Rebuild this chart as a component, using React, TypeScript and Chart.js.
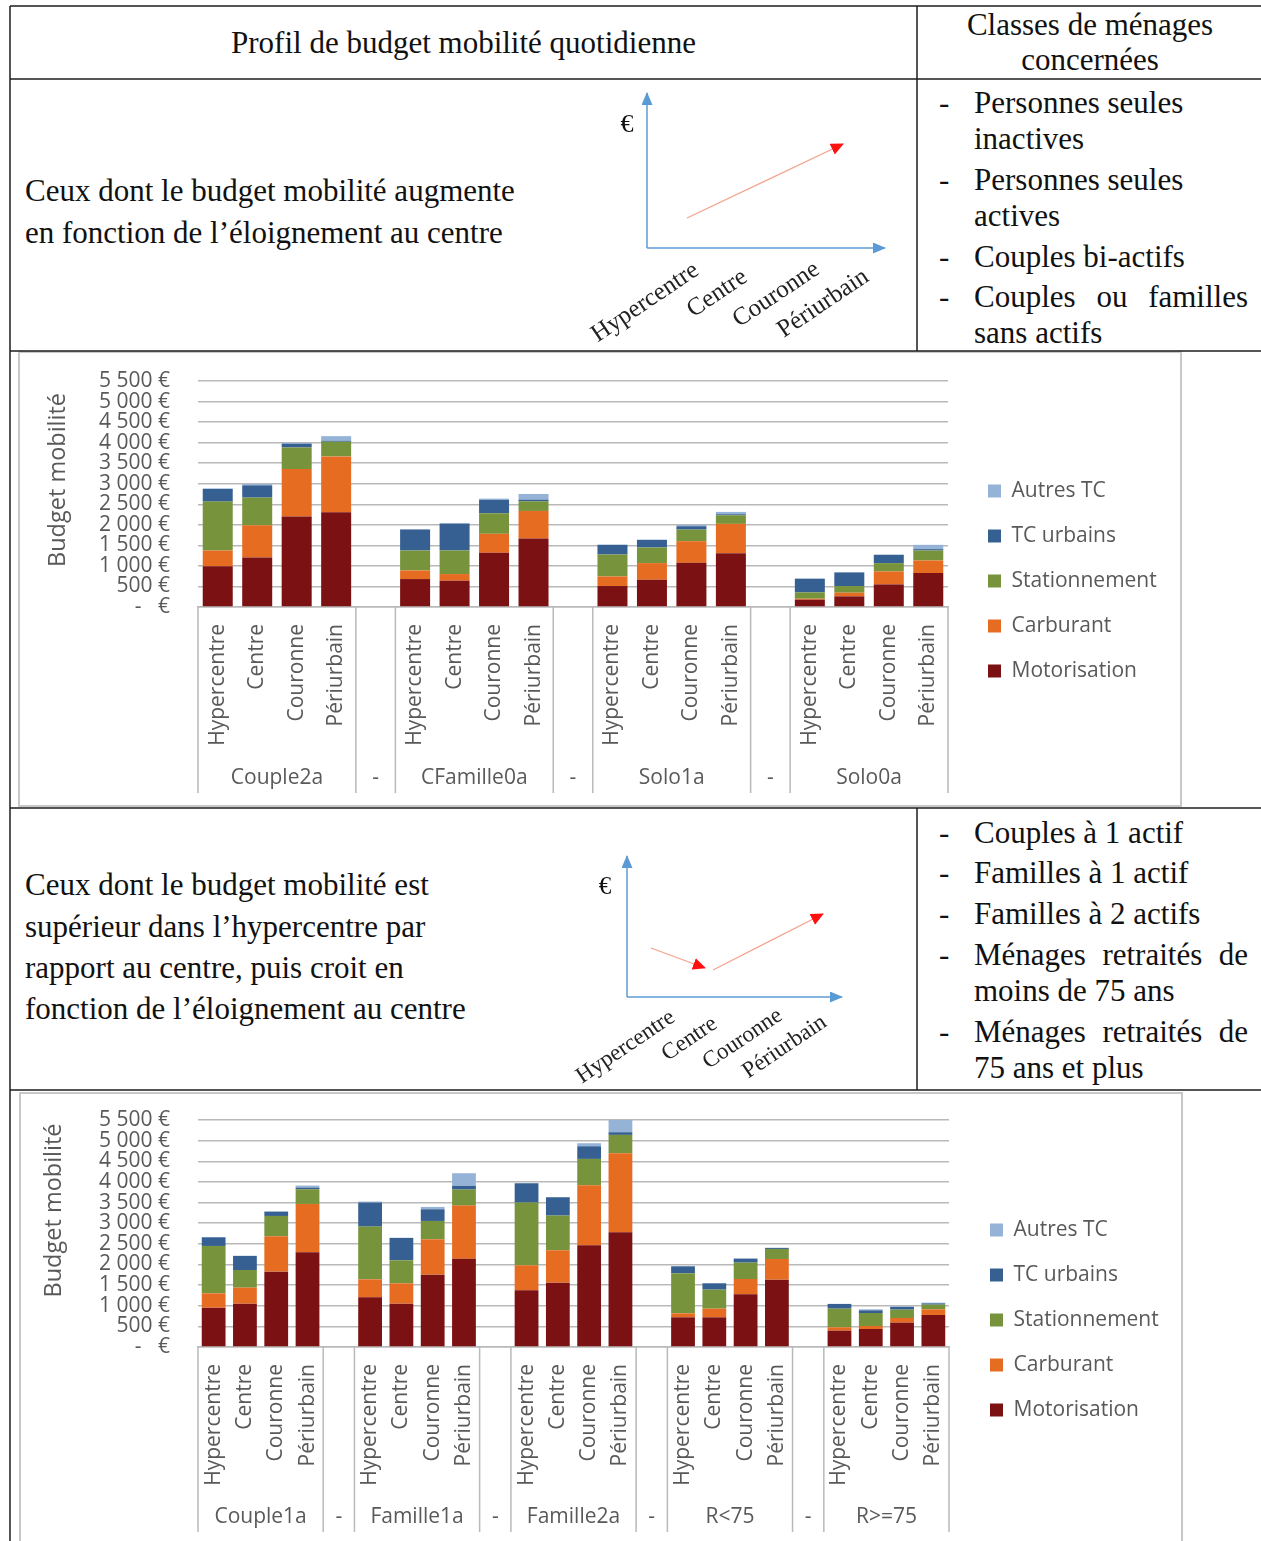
import React, { useEffect, useRef } from 'react';
import { Chart, registerables } from 'chart.js';

Chart.register(...registerables);

// ---------- data ----------
const ZONES = ['Hypercentre', 'Centre', 'Couronne', 'Périurbain'];
const SERIES_NAMES = ['Motorisation', 'Carburant', 'Stationnement', 'TC urbains', 'Autres TC'];
const SERIES_COLORS = ['#7b1113', '#e66c22', '#77933c', '#376092', '#95b3d7'];
const Y_MAX = 5500;
const Y_STEP = 500;
const Y_TITLE = 'Budget mobilité';

const TOP_GROUPS = ['Couple2a', 'CFamille0a', 'Solo1a', 'Solo0a'];
const TOP_MOTORISATION = [990, 1205, 2200, 2306, 680, 640, 1320, 1667, 510, 663, 1076, 1311, 178, 259, 550, 825];
const TOP_CARBURANT = [385, 785, 1157, 1359, 210, 162, 461, 671, 234, 405, 526, 712, 24, 89, 316, 308];
const TOP_STATIONNEMENT = [1190, 672, 526, 356, 485, 574, 501, 235, 534, 380, 283, 210, 154, 162, 202, 242];
const TOP_TC_URBAINS = [307, 299, 89, 24, 510, 656, 324, 40, 235, 186, 81, 24, 332, 331, 202, 33];
const TOP_AUTRES_TC = [15, 30, 25, 113, 10, 5, 32, 138, 5, 5, 32, 57, 5, 5, 5, 105];

const BOTTOM_GROUPS = ['Couple1a', 'Famille1a', 'Famille2a', 'R<75', 'R>=75'];
const BOTTOM_MOTORISATION = [953, 1050, 1826, 2295, 1204, 1050, 1753, 2141, 1374, 1559, 2464, 2780, 719, 719, 1277, 1632, 396, 436, 590, 776];
const BOTTOM_CARBURANT = [348, 388, 857, 1171, 436, 493, 857, 1285, 606, 784, 1455, 1914, 97, 210, 371, 501, 81, 73, 113, 137];
const BOTTOM_STATIONNEMENT = [1147, 428, 492, 356, 1277, 558, 444, 388, 1519, 841, 638, 445, 970, 461, 396, 243, 452, 315, 202, 113];
const BOTTOM_TC_URBAINS = [210, 340, 105, 40, 582, 541, 283, 89, 468, 444, 307, 65, 169, 153, 97, 24, 113, 65, 65, 32];
const BOTTOM_AUTRES_TC = [5, 5, 5, 49, 25, 5, 57, 307, 5, 5, 73, 298, 5, 5, 5, 5, 5, 24, 16, 16];

// ---------- styles ----------
const SANS = '"Open Sans", "Noto Sans", sans-serif';
const SERIF = '"Liberation Serif", "Times New Roman", serif';
const AXIS_TEXT = '#595959';
const GRID = '#b9b9b9';
const PER_GROUP = ZONES.length + 1;

function withGaps<T>(values: T[], gap: T): T[] {
  const out: T[] = [];
  for (let i = 0; i < values.length; i += ZONES.length) {
    if (i > 0) out.push(gap);
    out.push(...values.slice(i, i + ZONES.length));
  }
  return out;
}

function makeGroupPlugin(groups: string[], titleX: number, titleLift: number) {
  return {
    id: 'groupAxis',
    afterDraw(chart: any) {
      const x = chart.scales.x;
      const ctx = chart.ctx;
      const area = chart.chartArea;
      const n = groups.length * PER_GROUP - 1;
      const px = (i: number) => x.getPixelForValue(i);
      const boundary = (k: number) => (k <= 0 ? x.left : k >= n ? x.right : (px(k - 1) + px(k)) / 2);
      ctx.save();
      ctx.strokeStyle = GRID;
      ctx.lineWidth = 1.5;
      groups.forEach((_g, gi) => {
        const s = gi * PER_GROUP;
        [s, s + ZONES.length].forEach((k) => {
          const xx = boundary(k);
          ctx.beginPath();
          ctx.moveTo(xx, x.top);
          ctx.lineTo(xx, x.bottom);
          ctx.stroke();
        });
      });
      ctx.fillStyle = AXIS_TEXT;
      ctx.font = `21px ${SANS}`;
      ctx.textAlign = 'center';
      ctx.textBaseline = 'middle';
      const ly = x.bottom - 15;
      groups.forEach((g, gi) => {
        const s = gi * PER_GROUP;
        ctx.fillText(g, (boundary(s) + boundary(s + ZONES.length)) / 2, ly);
        if (gi < groups.length - 1) ctx.fillText('-', px(s + ZONES.length), ly);
      });
      // axis title
      ctx.translate(titleX, (area.top + area.bottom) / 2 - titleLift);
      ctx.rotate(-Math.PI / 2);
      ctx.font = `23.5px ${SANS}`;
      ctx.fillText(Y_TITLE, 0, 0);
      ctx.restore();
    },
  };
}

function makeLegendPlugin(legendWidth: number, shiftX: number, shiftY: number) {
  return {
    id: 'legendPlace',
    beforeLayout(chart: any) {
      const lg = chart.legend;
      if (lg && !lg.__patched) {
        const orig = lg.fit;
        lg.fit = function () {
          orig.call(this);
          this.width = legendWidth;
        };
        lg.__patched = true;
      }
    },
    afterLayout(chart: any) {
      const lg = chart.legend;
      if (lg) {
        lg.left += shiftX;
        lg.top += shiftY;
        lg.bottom += shiftY;
      }
    },
  };
}

function fmtEuro(v: number) {
  if (v === 0) return '-   €';
  return String(v).replace(/\B(?=(\d{3})+(?!\d))/g, ' ') + ' €';
}

type ChartProps = {
  groups: string[];
  series: number[][];
  width: number;
  height: number;
  yWidth: number;
  legendWidth: number;
  legendShift: number;
  legendShiftY: number;
  padTop: number;
  padBottom: number;
  axisHeight: number;
  titleX: number;
  titleLift: number;
};

function BudgetChart(p: ChartProps) {
  const ref = useRef<HTMLCanvasElement>(null);
  useEffect(() => {
    const labels = withGaps(p.groups.flatMap(() => ZONES), '');
    const chart = new Chart(ref.current as HTMLCanvasElement, {
      type: 'bar',
      data: {
        labels,
        datasets: p.series.map((vals, i) => ({
          label: SERIES_NAMES[i],
          data: withGaps<number | null>(vals, null),
          backgroundColor: SERIES_COLORS[i],
          borderWidth: 0,
          barPercentage: 0.76,
          categoryPercentage: 1,
        })),
      },
      options: {
        animation: false,
        responsive: false,
        maintainAspectRatio: false,
        layout: { padding: { top: p.padTop, bottom: p.padBottom, left: 0, right: 0 } },
        plugins: {
          legend: {
            position: 'right',
            reverse: true,
            labels: {
              boxWidth: 13,
              boxHeight: 13,
              padding: 24,
              color: AXIS_TEXT,
              font: { family: SANS, size: 21 },
            },
          },
          tooltip: { enabled: false },
        },
        scales: {
          x: {
            stacked: true,
            grid: { display: false, drawTicks: false },
            border: { display: true, color: GRID, width: 1.5 },
            ticks: {
              autoSkip: false,
              minRotation: 90,
              maxRotation: 90,
              padding: 17,
              color: AXIS_TEXT,
              font: { family: SANS, size: 21 },
            },
            afterFit: (s: any) => {
              s.height = p.axisHeight;
            },
          },
          y: {
            stacked: true,
            min: 0,
            max: Y_MAX,
            grid: {
              color: GRID,
              lineWidth: 1.5,
              drawTicks: true,
              tickLength: 25,
              tickColor: 'rgba(0,0,0,0)',
            },
            border: { display: false },
            ticks: {
              stepSize: Y_STEP,
              autoSkip: false,
              padding: 3,
              color: AXIS_TEXT,
              font: { family: SANS, size: 21 },
              callback: (v: any) => fmtEuro(Number(v)),
            },
            title: { display: false, text: Y_TITLE },
            afterFit: (s: any) => {
              s.width = p.yWidth;
            },
          },
        },
      } as any,
      plugins: [makeGroupPlugin(p.groups, p.titleX, p.titleLift), makeLegendPlugin(p.legendWidth, p.legendShift, p.legendShiftY)],
    });
    return () => chart.destroy();
  }, []);
  return (
    <canvas
      ref={ref}
      width={p.width}
      height={p.height}
      style={{ width: p.width, height: p.height, display: 'block' }}
    />
  );
}

// ---------- text helpers ----------
function TextLine({ x, y, children, size = 31 }: { x: number; y: number; children: any; size?: number }) {
  return (
    <div
      style={{
        position: 'absolute',
        left: x,
        top: y - 20,
        height: 40,
        lineHeight: '40px',
        fontFamily: SERIF,
        fontSize: size,
        color: '#111',
        whiteSpace: 'nowrap',
      }}
    >
      {children}
    </div>
  );
}

function Justified({ x, y, w, words }: { x: number; y: number; w: number; words: string[] }) {
  return (
    <div
      style={{
        position: 'absolute',
        left: x,
        top: y - 20,
        width: w,
        height: 40,
        lineHeight: '40px',
        fontFamily: SERIF,
        fontSize: 31,
        color: '#111',
        display: 'flex',
        justifyContent: 'space-between',
        whiteSpace: 'nowrap',
      }}
    >
      {words.map((wd, i) => (
        <span key={i}>{wd}</span>
      ))}
    </div>
  );
}

function Dash({ y }: { y: number }) {
  return <TextLine x={939} y={y}>-</TextLine>;
}

const DIAG_LABELS = ['Hypercentre', 'Centre', 'Couronne', 'Périurbain'];

export default function App() {
  const topSeries = [TOP_MOTORISATION, TOP_CARBURANT, TOP_STATIONNEMENT, TOP_TC_URBAINS, TOP_AUTRES_TC];
  const bottomSeries = [BOTTOM_MOTORISATION, BOTTOM_CARBURANT, BOTTOM_STATIONNEMENT, BOTTOM_TC_URBAINS, BOTTOM_AUTRES_TC];
  const blue = '#5b9bd5';
  const salmon = '#f3a48e';
  return (
    <div
      style={{
        position: 'absolute',
        left: 0,
        top: 0,
        width: 1261,
        height: 1541,
        overflow: 'hidden',
        background: '#fff',
      }}
    >
      {/* chart frames */}
      <div style={{ position: 'absolute', left: 18, top: 351, width: 1160, height: 452, border: '2px solid #c8c8c8' }} />
      <div style={{ position: 'absolute', left: 19, top: 1092, width: 1160, height: 452, border: '2px solid #c8c8c8' }} />

      <div style={{ position: 'absolute', left: 20, top: 354 }}>
        <BudgetChart
          groups={TOP_GROUPS}
          series={topSeries}
          width={1160}
          height={451}
          yWidth={178}
          legendWidth={232}
          legendShift={16}
          legendShiftY={-6}
          padTop={27}
          padBottom={12}
          axisHeight={186}
          titleX={38}
          titleLift={14}
        />
      </div>
      <div style={{ position: 'absolute', left: 21, top: 1094 }}>
        <BudgetChart
          groups={BOTTOM_GROUPS}
          series={bottomSeries}
          width={1160}
          height={450}
          yWidth={177}
          legendWidth={232}
          legendShift={17}
          legendShiftY={-6}
          padTop={26}
          padBottom={12}
          axisHeight={185}
          titleX={33}
          titleLift={23}
        />
      </div>

      {/* header */}
      <div
        style={{
          position: 'absolute',
          left: 10,
          width: 907,
          top: 23,
          height: 40,
          lineHeight: '40px',
          textAlign: 'center',
          fontFamily: SERIF,
          fontSize: 31,
          color: '#111',
        }}
      >
        Profil de budget mobilité quotidienne
      </div>
      <div
        style={{
          position: 'absolute',
          left: 917,
          width: 346,
          top: 7,
          lineHeight: '35px',
          textAlign: 'center',
          fontFamily: SERIF,
          fontSize: 31,
          color: '#111',
        }}
      >
        Classes de ménages
        <br />
        concernées
      </div>

      {/* row 2 */}
      <TextLine x={25} y={191}>Ceux dont le budget mobilité augmente</TextLine>
      <TextLine x={25} y={233}>en fonction de l’éloignement au centre</TextLine>

      <Dash y={103} />
      <TextLine x={974} y={103}>Personnes seules</TextLine>
      <TextLine x={974} y={139}>inactives</TextLine>
      <Dash y={180} />
      <TextLine x={974} y={180}>Personnes seules</TextLine>
      <TextLine x={974} y={216}>actives</TextLine>
      <Dash y={257} />
      <TextLine x={974} y={257}>Couples bi-actifs</TextLine>
      <Dash y={297} />
      <Justified x={974} y={297} w={274} words={['Couples', 'ou', 'familles']} />
      <TextLine x={974} y={333}>sans actifs</TextLine>

      {/* row 4 */}
      <TextLine x={25} y={885}>Ceux dont le budget mobilité est</TextLine>
      <TextLine x={25} y={927}>supérieur dans l’hypercentre par</TextLine>
      <TextLine x={25} y={968}>rapport au centre, puis croit en</TextLine>
      <TextLine x={25} y={1009}>fonction de l’éloignement au centre</TextLine>

      <Dash y={833} />
      <TextLine x={974} y={833}>Couples à 1 actif</TextLine>
      <Dash y={873} />
      <TextLine x={974} y={873}>Familles à 1 actif</TextLine>
      <Dash y={914} />
      <TextLine x={974} y={914}>Familles à 2 actifs</TextLine>
      <Dash y={955} />
      <Justified x={974} y={955} w={274} words={['Ménages', 'retraités', 'de']} />
      <TextLine x={974} y={991}>moins de 75 ans</TextLine>
      <Dash y={1032} />
      <Justified x={974} y={1032} w={274} words={['Ménages', 'retraités', 'de']} />
      <TextLine x={974} y={1068}>75 ans et plus</TextLine>

      {/* table lines + schematic diagrams */}
      <svg
        width={1261}
        height={1541}
        style={{ position: 'absolute', left: 0, top: 0, pointerEvents: 'none' }}
      >
        <defs>
          <marker id="bh" viewBox="0 0 13 11" refX="12" refY="5.5" markerWidth="13" markerHeight="11" markerUnits="userSpaceOnUse" orient="auto">
            <path d="M0,0 L13,5.5 L0,11 z" fill={blue} />
          </marker>
          <marker id="rh" viewBox="0 0 13 12" refX="12" refY="6" markerWidth="13" markerHeight="12" markerUnits="userSpaceOnUse" orient="auto">
            <path d="M0,0 L13,6 L0,12 z" fill="#ff1010" />
          </marker>
        </defs>
        <g stroke="#1c1c1c" strokeWidth={1.5} fill="none">
          <path d="M10,6 H1261" />
          <path d="M10,6 V1541" />
          <path d="M10,79 H1261" />
          <path d="M917,6 V351" />
          <path d="M10,351 H1261" />
          <path d="M10,808 H1261" />
          <path d="M917,808 V1090" />
          <path d="M10,1090 H1261" />
        </g>

        {/* diagram 1 */}
        <line x1={647} y1={248} x2={647} y2={93} stroke={blue} strokeWidth={1.5} markerEnd="url(#bh)" />
        <line x1={647} y1={248} x2={885} y2={248} stroke={blue} strokeWidth={1.5} markerEnd="url(#bh)" />
        <line x1={687} y1={218} x2={843} y2={144} stroke={salmon} strokeWidth={1.3} markerEnd="url(#rh)" />
        <text x={627} y={132} fontFamily={SERIF} fontSize={26} textAnchor="middle" fill="#111">€</text>
        {[[649, 308], [721, 299], [780, 300], [827, 309]].map(([cx, cy], i) => (
          <text key={i} x={cx} y={cy} fontFamily={SERIF} fontSize={25} textAnchor="middle" fill="#222" transform={`rotate(-34 ${cx} ${cy})`}>
            {DIAG_LABELS[i]}
          </text>
        ))}

        {/* diagram 2 */}
        <line x1={627} y1={997} x2={627} y2={856} stroke={blue} strokeWidth={1.5} markerEnd="url(#bh)" />
        <line x1={627} y1={997} x2={842} y2={997} stroke={blue} strokeWidth={1.5} markerEnd="url(#bh)" />
        <line x1={651} y1={948} x2={705} y2={968} stroke={salmon} strokeWidth={1.3} markerEnd="url(#rh)" />
        <line x1={713} y1={970} x2={823} y2={914} stroke={salmon} strokeWidth={1.3} markerEnd="url(#rh)" />
        <text x={605} y={894} fontFamily={SERIF} fontSize={25} textAnchor="middle" fill="#111">€</text>
        {[[629, 1052], [693, 1044], [746, 1044], [788, 1052]].map(([cx, cy], i) => (
          <text key={i} x={cx} y={cy} fontFamily={SERIF} fontSize={23} textAnchor="middle" fill="#222" transform={`rotate(-34 ${cx} ${cy})`}>
            {DIAG_LABELS[i]}
          </text>
        ))}
      </svg>
    </div>
  );
}
